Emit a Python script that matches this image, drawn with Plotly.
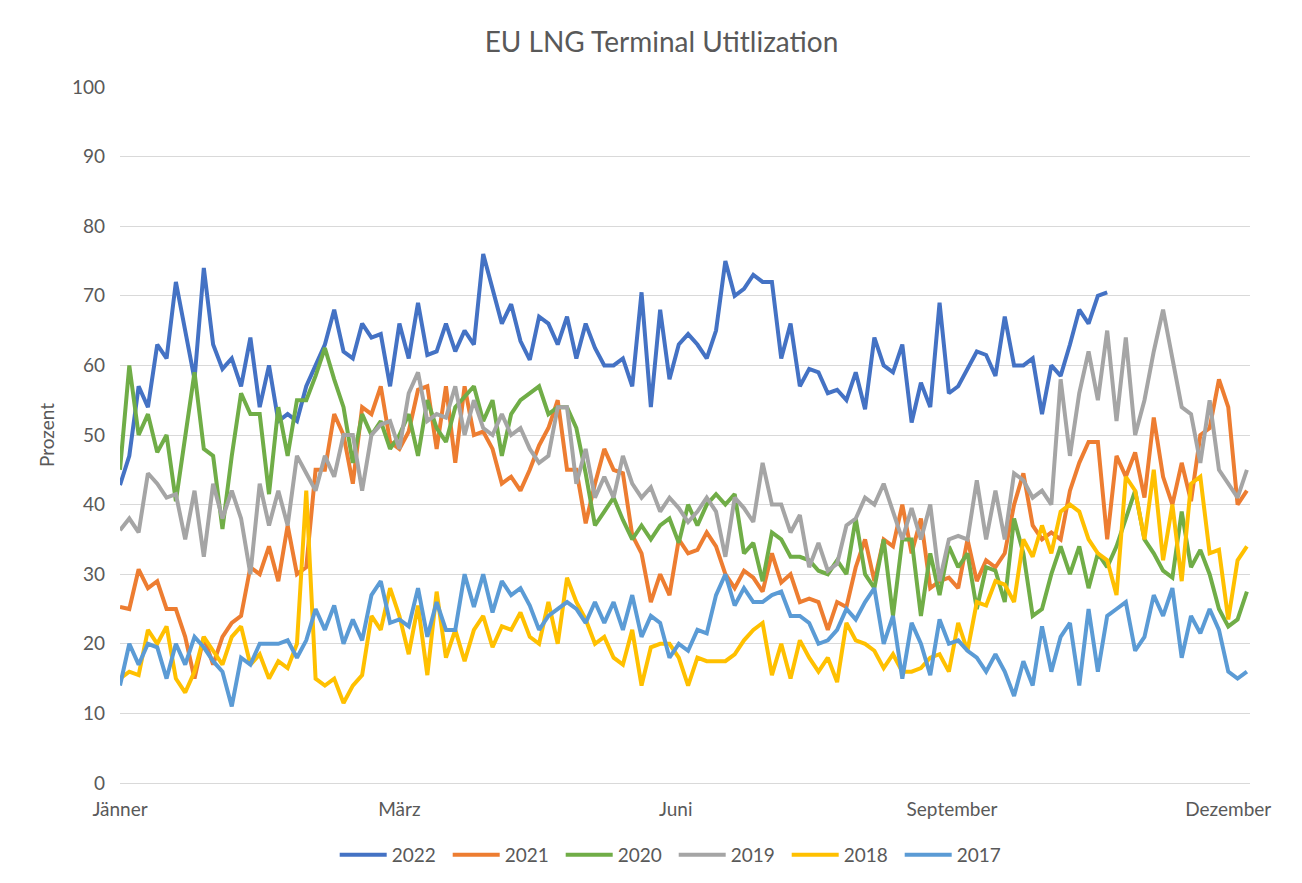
import plotly.graph_objects as go

# day of year (every 3rd day)
days = list(range(0, 366, 3))

y2022 = [42.8, 47, 57, 54, 63, 61, 72, 65, 58, 74, 63, 59.5, 61, 57, 64, 54, 60, 52, 53, 52, 57,
         60, 63, 68, 62, 61, 66, 64, 64.5, 57, 66, 61, 69, 61.5, 62, 66, 62, 65, 63, 76, 71,
         66, 68.8, 63.5, 60.8, 67, 66, 63, 67, 61, 66, 62.5, 60, 60, 61, 57, 70.5, 54, 68, 58, 63,
         64.5, 63, 61, 65, 75, 70, 71, 73, 72, 72, 61, 66, 57, 59.5, 59, 56, 56.5, 55, 59, 53.7, 64,
         60, 59, 63, 51.8, 57.5, 54, 69, 56, 57, 59.5, 62, 61.5, 58.5, 67, 60, 60, 61, 53, 60, 58.5,
         63, 68, 66, 70, 70.5]
y2021 = [25.3, 25, 30.7, 28, 29, 25, 25, 21, 15, 21, 17, 21, 23, 24, 31, 30, 34, 29, 37, 30, 31,
         45, 45, 53, 50, 43, 54, 53, 57, 49, 48, 50.5, 56.5, 57, 48, 57, 46, 57, 50, 50.5, 48,
         43, 44, 42, 45, 48.5, 51, 55, 45, 45, 37.3, 43, 48, 45, 44.5, 35.6, 33, 26, 30, 27, 35,
         33, 33.5, 36, 34, 30, 28, 30.5, 29.5, 27.5, 33, 28.8, 30, 26, 26.5, 26, 22, 26, 25.3, 31, 35, 29,
         35, 34, 40, 33, 38, 28, 29, 29.5, 28, 35, 29, 32, 31, 33, 40, 44.5, 37, 35, 36, 35,
         42, 46, 49, 49, 35, 47, 44, 47.5, 41, 52.5, 44, 40, 46, 40.5, 50, 51, 58, 54, 40, 42]
y2020 = [45, 60, 50, 53, 47.5, 50, 40.5, 50, 59, 48, 47, 36.5, 47, 56, 53, 53, 41.5, 54, 47, 55, 55,
         58.5, 62.5, 58, 54, 46, 53, 50, 52, 48, 50, 53, 47, 55, 51, 49, 54, 55.5, 57, 52, 55,
         47, 53, 55, 56, 57, 53, 54, 54, 51, 44.5, 37, 39, 41, 37.8, 35, 37, 35, 37, 38, 34.5,
         40, 37, 40, 41.5, 40, 41.5, 33, 34.5, 29, 36, 35, 32.5, 32.5, 32, 30.5, 30, 32, 30, 38, 30, 28,
         35, 24, 35, 35, 24, 33, 27, 34, 31, 33, 25, 31, 30.5, 26, 38, 33, 24, 25, 30, 34,
         30, 34, 28, 33, 31, 34, 38, 42, 35, 33, 30.5, 29.5, 39, 31, 33.5, 30, 25, 22.5, 23.5, 27.5]
y2019 = [36.3, 38, 36, 44.5, 43, 41, 41.5, 35, 42, 32.5, 43, 38, 42, 38, 30, 43, 37, 42, 37, 47, 44.5,
         42, 47, 44, 50, 50, 42, 50, 51.5, 52, 48, 56, 59, 52, 53, 52.5, 57, 50, 55, 51, 50,
         53, 50, 51, 48, 46, 47, 54, 54, 43, 48, 41, 44, 41, 47, 43, 41, 42.5, 39, 41, 39.5,
         37.5, 39, 41, 39, 32.5, 41, 39.5, 37.5, 46, 40, 40, 36, 38.5, 31, 34.5, 30.5, 31.5, 37, 38, 41, 40,
         43, 39, 35, 39.5, 35, 40, 29, 35, 35.5, 35, 43.5, 35, 42, 35, 44.5, 43.5, 41, 42, 40, 58,
         47, 56, 62, 55, 65, 52, 64, 50, 55, 62, 68, 61, 54, 53, 46, 55, 45, 43, 41, 45]
y2018 = [15, 16, 15.5, 22, 20, 22.5, 15, 13, 16, 21, 19, 17, 21, 22.5, 17, 18.5, 15, 17.5, 16.5, 20, 42,
         15, 14, 15, 11.5, 14, 15.5, 24, 22, 28, 24, 18.5, 25.5, 15.5, 27.5, 18, 22, 17.5, 22, 24, 19.5,
         22.5, 22, 24.5, 21, 20, 26, 20, 29.5, 26, 23.5, 20, 21, 18, 17, 22, 14, 19.5, 20, 20, 18,
         14, 18, 17.5, 17.5, 17.5, 18.5, 20.5, 22, 23, 15.5, 20, 15, 20.5, 18, 16, 18, 14.5, 23, 20.5, 20, 19,
         16.5, 18.5, 16, 16, 16.5, 18, 18.5, 16, 23, 19, 26, 25.5, 29, 28.5, 26, 35, 32.5, 37, 33, 39,
         40, 39, 35, 33, 32, 27, 44, 42, 35, 45, 32, 40, 29, 43, 44, 33, 33.5, 23.5, 32, 34]
y2017 = [14, 20, 17, 20, 19.5, 15, 20, 17, 21, 19.5, 17.5, 16, 11, 18, 17, 20, 20, 20, 20.5, 18, 20.5,
         25, 22, 25.5, 20, 23.5, 20.5, 27, 29, 23, 23.5, 22.5, 28, 21, 26, 22, 22, 30, 25.3, 30, 24.5,
         29, 27, 28, 25.5, 22, 24, 25, 26, 25, 23, 26, 23, 26, 22, 27, 21, 24, 23, 18, 20,
         19, 22, 21.5, 27, 30, 25.5, 28, 26, 26, 27, 27.5, 24, 24, 23, 20, 20.5, 22, 25, 23.5, 26, 28,
         20, 24, 15, 23, 20, 15.5, 23.5, 20, 20.5, 19, 18, 16, 18.5, 16, 12.5, 17.5, 14, 22.5, 16, 21,
         23, 14, 25, 16, 24, 25, 26, 19, 21, 27, 24, 28, 18, 24, 21.5, 25, 22, 16, 15, 16]

series = [("2022", y2022, "#4472C4"), ("2021", y2021, "#ED7D31"), ("2020", y2020, "#70AD47"),
          ("2019", y2019, "#A5A5A5"), ("2018", y2018, "#FFC000"), ("2017", y2017, "#5B9BD5")]

month_pos = [0, 90, 179, 268, 357]
month_names = ["Jänner", "März", "Juni", "September", "Dezember"]

grey = "#595959"
fig = go.Figure()
for name, vals, col in series:
    fig.add_trace(go.Scatter(x=days[:len(vals)], y=vals, mode="lines", name=name,
                             line=dict(color=col, width=4)))

# page has an 8px body margin, so the figure is a bit smaller than the window
fig.update_layout(
    width=1294, height=875,
    margin=dict(l=112, r=52, t=79, b=100),
    plot_bgcolor="white", paper_bgcolor="white",
    font=dict(family="Lato", size=19, color=grey),
    title=dict(text="EU LNG Terminal Utitlization", x=0.505, xanchor="center",
               y=0.961, yanchor="middle", font=dict(size=28, color=grey)),
    xaxis=dict(range=[0, 364], tickvals=month_pos, ticktext=month_names, automargin=False,
               showgrid=False, zeroline=False, showline=True, linecolor="#d9d9d9", linewidth=1,
               ticks="", ticklabelstandoff=9),
    yaxis=dict(range=[0, 100], dtick=10, showgrid=True, gridcolor="#d9d9d9", gridwidth=1,
               zeroline=False, ticks="", ticklabelstandoff=14, automargin=False,
               title=dict(text="Prozent", font=dict(size=19, color=grey), standoff=12)),
    legend=dict(orientation="h", x=0.49, xanchor="center", yref="container", y=0.032,
                yanchor="middle", itemwidth=47, entrywidth=51, font=dict(size=19, color=grey)),
)

fig.write_html("out.html")
